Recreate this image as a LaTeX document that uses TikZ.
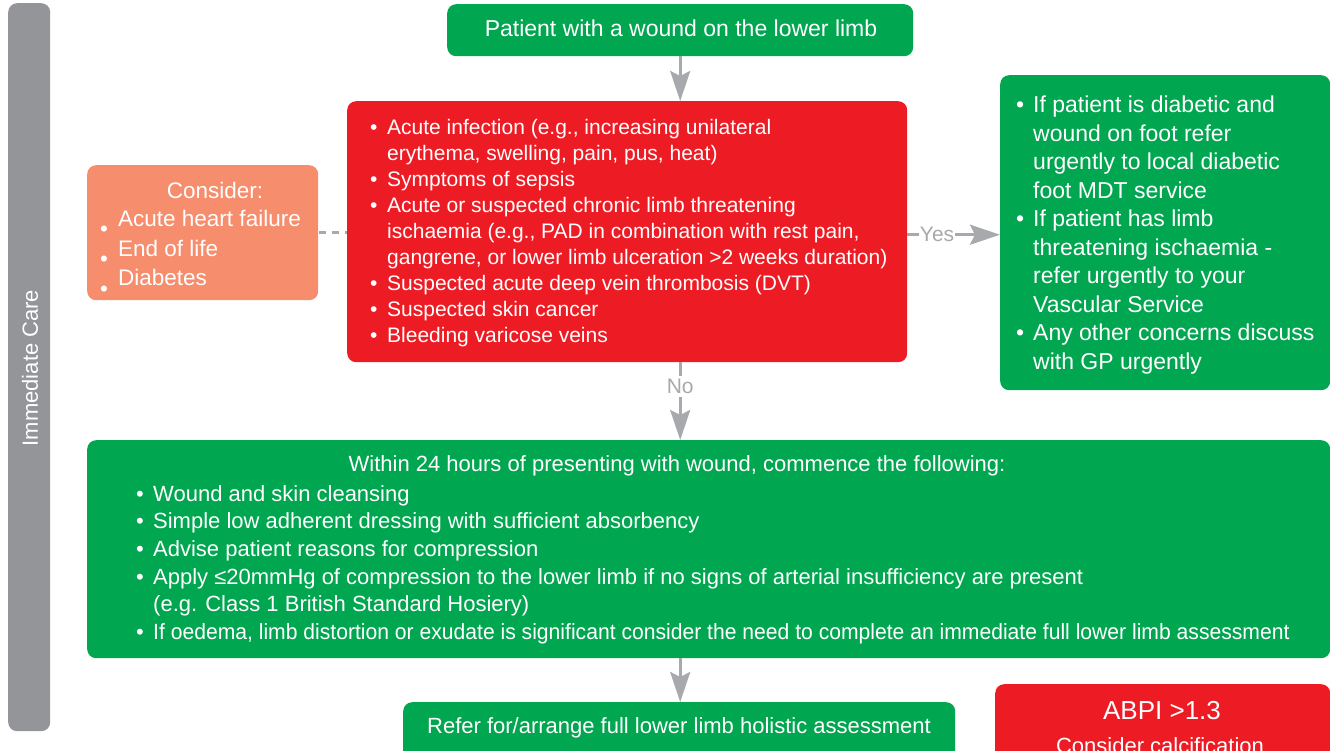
\documentclass[tikz,border=0pt]{standalone}
\usepackage{fontspec}
\usepackage{graphicx}
\setmainfont{Liberation Sans}
\usetikzlibrary{arrows.meta}

\definecolor{nhsgreen}{HTML}{00A650}
\definecolor{alertred}{HTML}{ED1C24}
\definecolor{softorange}{HTML}{F68D6C}
\definecolor{sidegray}{HTML}{939598}
\definecolor{linkgray}{HTML}{A7A9AC}

\newcommand{\fs}[2]{\fontsize{#1}{#2}\selectfont}
\newcommand{\bul}{\makebox[17pt][l]{\textbullet}}
\newcommand{\ind}{\hspace*{17pt}}
\newcommand{\lowbul}{\makebox[18pt][l]{\raisebox{-10.5pt}{\textbullet}}}

\begin{document}
\begin{tikzpicture}[x=1pt,y=-1pt,
  panel/.style={rounded corners=9pt, inner sep=0pt, anchor=north west},
  txt/.style={text=white, inner sep=0pt, anchor=base west},
  ctxt/.style={text=white, inner sep=0pt, anchor=base},
  link/.style={draw=linkgray, line width=3pt,
    -{Stealth[length=30pt,width=20pt,inset=5pt]}},
  tag/.style={text=linkgray, fill=white, inner xsep=1pt, inner ysep=3pt,
    font=\fs{21}{25}}]

\useasboundingbox (0,0) rectangle (1330,751);
\clip (0,0) rectangle (1330,751);

% side band
\node[panel, fill=sidegray, minimum width=42pt, minimum height=728pt] (side) at (8,3) {};
\node[text=white, inner sep=0pt, rotate=90] (sidetxt) at (30,368) {\fs{22}{26}Immediate Care};

% entry point
\node[panel, fill=nhsgreen, minimum width=466pt, minimum height=52pt] (start) at (447,4) {};
\node[ctxt] (starttxt) at (681,37) {\fs{23}{27}Patient with a wound on the lower limb};

% red flags
\node[panel, fill=alertred, minimum width=560pt, minimum height=261pt] (danger) at (347,101) {};
\node[txt] (dangertxt) at (370,135) {\fs{21}{26}\begin{tabular}[t]{@{}l@{}}
\bul Acute infection (e.g., increasing unilateral\\
\ind erythema, swelling, pain, pus, heat)\\
\bul Symptoms of sepsis\\
\bul Acute or suspected chronic limb threatening\\
\ind ischaemia (e.g., PAD in combination with rest pain,\\
\ind gangrene, or lower limb ulceration >2 weeks duration)\\
\bul Suspected acute deep vein thrombosis (DVT)\\
\bul Suspected skin cancer\\
\bul Bleeding varicose veins
\end{tabular}};

% comorbidities
\node[panel, fill=softorange, minimum width=231pt, minimum height=135pt] (consider) at (87,165) {};
\node[ctxt] (considerhead) at (215,199) {\fs{22.5}{27.5}Consider:};
\node[txt] (considertxt) at (100,226.5) {\fs{22.5}{27.5}\begin{tabular}[t]{@{}l@{}}
\lowbul Acute heart failure\\
\lowbul End of life\\
\lowbul Diabetes
\end{tabular}};

% urgent referral
\node[panel, fill=nhsgreen, minimum width=330pt, minimum height=315pt] (urgent) at (1000,75) {};
\node[txt] (urgenttxt) at (1016,113) {\fs{23}{28.5}\begin{tabular}[t]{@{}l@{}}
\bul If patient is diabetic and\\
\ind wound on foot refer\\
\ind urgently to local diabetic\\
\ind foot MDT service\\
\bul If patient has limb\\
\ind threatening ischaemia -\\
\ind refer urgently to your\\
\ind Vascular Service\\
\bul Any other concerns discuss\\
\ind with GP urgently
\end{tabular}};

% first 24 hours
\node[panel, fill=nhsgreen, minimum width=1243pt, minimum height=218pt] (actions) at (87,440) {};
\node[ctxt] (actionshead) at (677,471) {\fs{22}{27.7}Within 24 hours of presenting with wound, commence the following:};
\node[txt] (actionstxt) at (136,501) {\fs{22}{27.7}\begin{tabular}[t]{@{}l@{}}
\bul Wound and skin cleansing\\
\bul Simple low adherent dressing with sufficient absorbency\\
\bul Advise patient reasons for compression\\
\bul Apply ≤20mmHg of compression to the lower limb if no signs of arterial insufficiency are present\\
\ind (e.g. Class 1 British Standard Hosiery)\\
\bul \scalebox{0.96}[1]{If oedema, limb distortion or exudate is significant consider the need to complete an immediate full lower limb assessment}
\end{tabular}};

% next steps
\node[panel, fill=nhsgreen, minimum width=552pt, minimum height=90pt] (refer) at (403,702) {};
\node[ctxt] (refertxt) at (679,733) {\fs{22}{26}Refer for/arrange full lower limb holistic assessment};
\node[panel, fill=alertred, minimum width=335pt, minimum height=110pt] (abpi) at (995,684) {};
\node[ctxt] (abpihead) at (1162,719) {\fs{26}{30}ABPI >1.3};
\node[ctxt] (abpitxt) at (1160,753) {\fs{22}{26}Consider calcification};

% connectors
\draw[link] (start.south) -- (start.south |- danger.north);
\draw[link] ([yshift=-3pt]danger.east) -- node[tag, pos=0.32] {Yes} ([yshift=-3pt]danger.east -| urgent.west);
\draw[link] (start.south |- danger.south) -- node[tag, pos=0.31] {No} (start.south |- actions.north);
\draw[link] (start.south |- actions.south) -- (start.south |- refer.north);
\draw[draw=linkgray, line width=2.5pt, dash pattern=on 7pt off 6pt, dash phase=-1pt]
  (consider.east) -- (consider.east -| danger.west);

\end{tikzpicture}
\end{document}
